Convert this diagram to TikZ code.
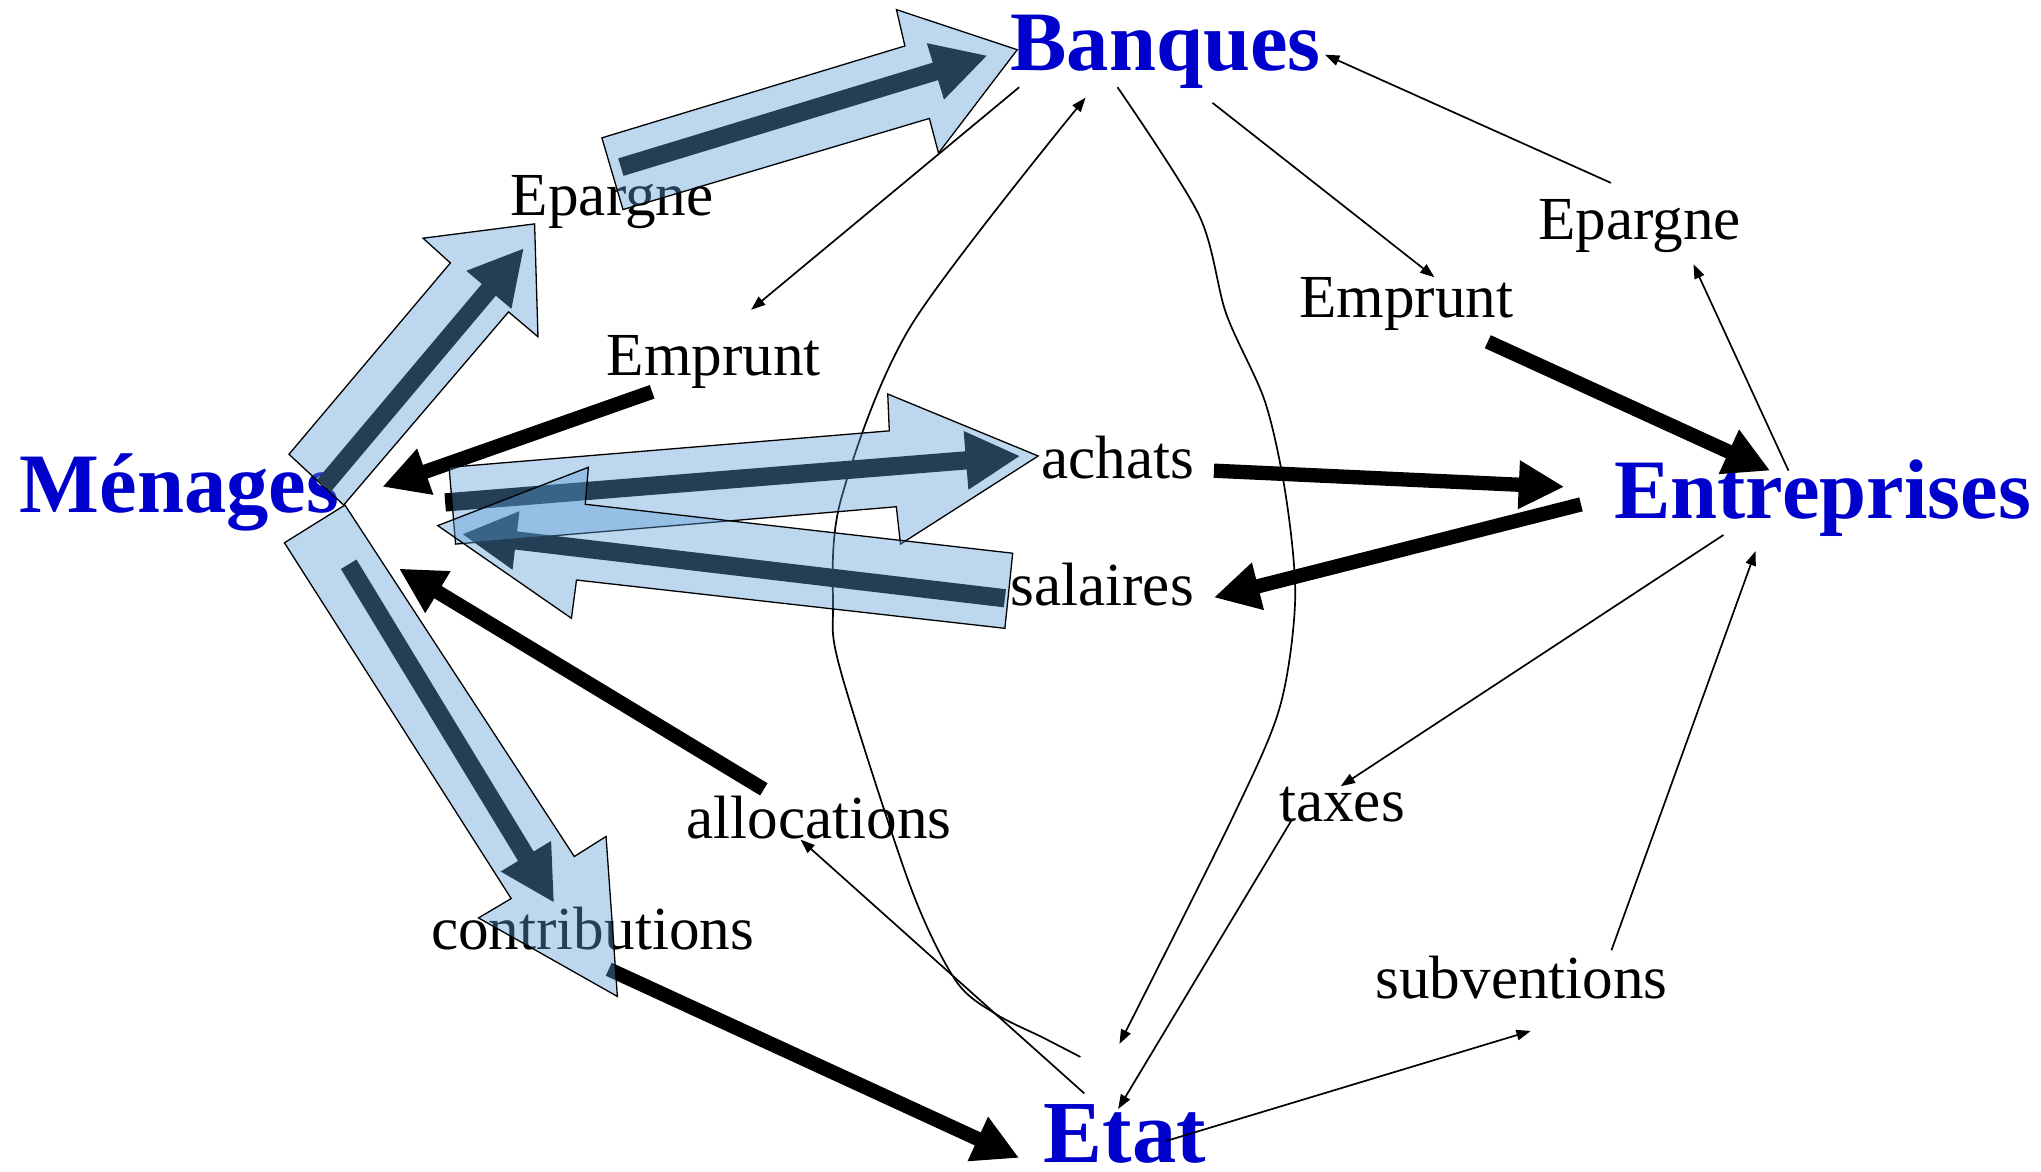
\documentclass[tikz,border=0pt]{standalone}
\usepackage{fontspec}
\setmainfont{Liberation Serif}
\usetikzlibrary{arrows.meta}
\definecolor{nodeblue}{RGB}{0,0,204}
\definecolor{hlblue}{RGB}{91,155,213}
\begin{document}
\begin{tikzpicture}[x=1pt,y=-1pt,
  actor/.style={text=nodeblue, font=\fontsize{65}{65}\selectfont\bfseries, inner sep=0pt, anchor=base west},
  flowlabel/.style={font=\fontsize{47}{47}\selectfont, inner sep=0pt, anchor=base west},
  thinarrow/.style={line width=1.3pt, -{Triangle[length=11pt,width=8pt]}},
  bigarrow/.style={line width=11pt, -{Triangle[length=35pt,width=35pt]}},
  hlarrow/.style={line width=14pt, -{Triangle[length=42pt,width=42pt]}},
  hlblock/.style={fill=hlblue, fill opacity=0.4, draw=black, line width=1pt, line join=miter},
]
\fill[white] (0,0) rectangle (1568,900);
\useasboundingbox (0,0) rectangle (1568,900);

% actors
\node[actor] (banques) at (776,54.4) {Banques};
\node[actor] (menages) at (15,394) {Ménages};
\node[actor] (entreprises) at (1240,398.4) {Entreprises};
\node[actor, font=\fontsize{68}{68}\selectfont\bfseries] (etat) at (801.5,893.4) {Etat};

% flow labels
\node[flowlabel] (epargneL) at (392.3,165.2) {Epargne};
\node[flowlabel] (empruntL) at (466,288.7) {Emprunt};
\node[flowlabel] (epargneR) at (1181.4,183.8) {Epargne};
\node[flowlabel] (empruntR) at (997.8,244) {Emprunt};
\node[flowlabel] (achats) at (799.8,367.5) {achats};
\node[flowlabel] (salaires) at (776,465.2) {salaires};
\node[flowlabel] (allocations) at (527.2,644.2) {allocations};
\node[flowlabel] (contributions) at (331,729.8) {contributions};
\node[flowlabel] (taxes) at (982.5,631.3) {taxes};
\node[flowlabel] (subventions) at (1056.5,766.8) {subventions};

% connector end points
\coordinate (bq1) at (783,67);      \coordinate (em1) at (577,238);
\coordinate (bq2) at (931.5,79);    \coordinate (em2) at (1102,213);
\coordinate (ep2) at (1237.6,140.5);\coordinate (bq3) at (1018,42);
\coordinate (en1) at (1374,361.6);  \coordinate (ep3) at (1301,203);
\coordinate (en2) at (1324,411);    \coordinate (tx1) at (1030,604);
\coordinate (tx2) at (992.5,629.7); \coordinate (et1) at (859,852);
\coordinate (et2) at (896,876.5);   \coordinate (sb1) at (1176,792);
\coordinate (sb2) at (1238,730);    \coordinate (en3) at (1348.7,423.4);
\coordinate (et3) at (833,840);     \coordinate (al1) at (615,645);
\coordinate (bq4) at (858.5,67);    \coordinate (et4) at (860,802);
\coordinate (et5) at (830,812);     \coordinate (bq5) at (834,75);

% thin arrows
\draw[thinarrow] (bq1) -- (em1);
\draw[thinarrow] (bq2) -- (em2);
\draw[thinarrow] (ep2) -- (bq3);
\draw[thinarrow] (en1) -- (ep3);
\draw[thinarrow] (en2) -- (tx1);
\draw[thinarrow] (tx2) -- (et1);
\draw[thinarrow] (et2) -- (sb1);
\draw[thinarrow] (sb2) -- (en3);
\draw[thinarrow] (et3) -- (al1);
\draw[thinarrow] plot[smooth] coordinates {(bq4) (921,165) (942,241) (972,309) (988,382) (995,461) (983,544) (946,630) (et4)};
\draw[thinarrow] plot[smooth] coordinates {(et5) (801,797) (765,779) (734,753) (699,680) (646,516) (640,466) (646,384) (700,250) (bq5)};

% thick black arrows
\coordinate (ta1) at (1143,262.5);  \coordinate (ta2) at (1360,361.6);
\coordinate (tb1) at (932.6,361.6); \coordinate (tb2) at (1201.8,374);
\coordinate (tc1) at (1214.6,387.5);\coordinate (tc2) at (932.5,459);
\coordinate (td1) at (501,301);     \coordinate (td2) at (293.7,374);
\coordinate (te1) at (586.8,606.4); \coordinate (te2) at (306.5,436.8);
\coordinate (tf1) at (467.7,744.6); \coordinate (tf2) at (783,889.6);
\draw[bigarrow] (ta1) -- (ta2);
\draw[bigarrow] (tb1) -- (tb2);
\draw[bigarrow] (tc1) -- (tc2);
\draw[bigarrow] (td1) -- (td2);
\draw[bigarrow] (te1) -- (te2);
\draw[bigarrow] (tf1) -- (tf2);

% highlighted arrows
\coordinate (h1a) at (477,128.4);   \coordinate (h1b) at (758.8,42.6);
\coordinate (h2a) at (249,373);     \coordinate (h2b) at (402.6,190.5);
\coordinate (h3a) at (267.9,433.5); \coordinate (h3b) at (425.8,693.7);
\coordinate (h4a) at (342,386);     \coordinate (h4b) at (784,350.3);
\coordinate (h5a) at (772,459.6);   \coordinate (h5b) at (354.7,410.3);
\draw[hlarrow] (h1a) -- (h1b);
\draw[hlarrow] (h2a) -- (h2b);
\draw[hlarrow] (h3a) -- (h3b);
\draw[hlarrow] (h4a) -- (h4b);
\draw[hlarrow] (h5a) -- (h5b);

% translucent block arrows
\draw[hlblock] (462.4,105.9) -- (695.2,35.3) -- (688.7,7.4) -- (781.5,38.2) -- (721,117.6) -- (714,91) -- (478.6,161) -- cycle;
\draw[hlblock] (222,349) -- (346,202) -- (325,183) -- (410.7,172) -- (413.3,258.7) -- (390.7,239.6) -- (264,388) -- cycle;
\draw[hlblock] (218.5,417) -- (392.7,690.3) -- (367.6,705.2) -- (474.3,765.5) -- (465.6,642.6) -- (441.2,658) -- (265,388) -- cycle;
\draw[hlblock] (345,359) -- (683.2,331) -- (682,302.7) -- (797.6,350.3) -- (691.8,418) -- (688.6,389.3) -- (350,418) -- cycle;
\draw[hlblock] (778,425) -- (449.6,387.4) -- (452,359) -- (336.3,403.8) -- (439,475) -- (442.9,445.6) -- (772,482.7) -- cycle;
\end{tikzpicture}
\end{document}
